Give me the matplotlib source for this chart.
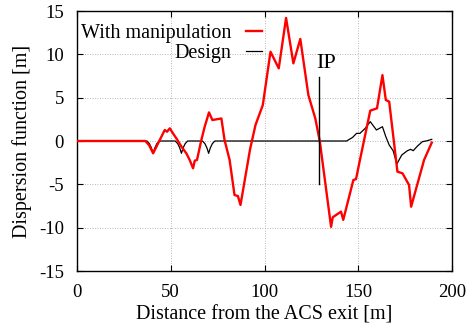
import matplotlib
matplotlib.use("Agg")
import matplotlib.pyplot as plt

red_x = [0, 36.5, 38.5, 40.6, 46.8, 48, 49.5, 51.2, 53, 55.7, 58.3, 60.1, 61.9, 62.8, 64,
         66.3, 68.1, 70.4, 72.2, 74.3, 77, 78.7, 81.4, 84, 85.8, 87.2, 92.3, 95.2, 99.1,
         103.2, 107.6, 111.5, 115.4, 119.1, 123.4, 127.1, 129.5, 135.5, 136.4, 140.8, 142,
         147.4, 148.8, 150.9, 156.4, 160, 162.9, 164.7, 166.5, 170.9, 173.6, 177.1, 178.2,
         185.1, 189.2]
red_y = [0, 0, -0.5, -1.42, 1.27, 1.07, 1.46, 0.88, 0.3, -0.65, -1.42, -2.19, -3.15, -2.27, -2.19,
         0.1, 1.65, 3.3, 2.42, 2.5, 2.6, 0.1, -2.19, -6.23, -6.35, -7.38, -0.95, 1.85, 4.15,
         10.3, 8.38, 14.2, 8.96, 11.77, 5.3, 2.6, -0.05, -9.9, -8.8, -8.15, -9.1,
         -4.5, -4.4, -2.19, 3.5, 3.77, 7.6, 4.73, 4.54, -3.54, -3.73, -5.08, -7.58,
         -2.19, -0.19]

black_x = [0, 37.3, 38.6, 39.7, 40.6, 41.5, 42.6, 43.9, 52.4, 53.7, 54.8, 55.7, 56.6, 57.7, 59.0,
           66.9, 68.2, 69.3, 70.2, 71.1, 72.2, 73.5, 143.8, 147, 149.1, 150.9, 153.7, 156.4,
           159.7, 162.9, 164.7, 166.5, 168.6, 170.6, 173.2, 176.2, 178, 179.3, 181.6, 184.2,
           186.9, 189.2]
black_y = [0, 0, -0.3, -0.8, -1.42, -0.8, -0.3, 0, 0, -0.3, -0.8, -1.42, -0.8, -0.3, 0,
           0, -0.3, -0.8, -1.42, -0.8, -0.3, 0, 0, 0.42, 0.88, 0.88, 1.46, 2.23,
           1.27, 1.65, 0.5, -0.46, -1.12, -2.65, -1.62, -1.12, -0.96, -1.12, -0.58, -0.08,
           0.04, 0.19]

ip_x = 129.3
ip_y = [-5, 7.4]

xticks = [0, 50, 100, 150, 200]
yticks = [-15, -10, -5, 0, 5, 10, 15]

plt.rcParams['font.family'] = ['Liberation Serif', 'DejaVu Serif']
plt.rcParams['axes.unicode_minus'] = False
fig = plt.figure(figsize=(4.73, 3.29), dpi=100)
ax = fig.add_axes([77/473, 58/329, 375/473, 260/329])

ax.plot(black_x, black_y, color='black', lw=0.9, label='Design', zorder=3)
ax.plot(red_x, red_y, color='#ff0000', lw=1.7, label='With manipulation', zorder=4)
ax.plot([ip_x, ip_x], ip_y, color='black', lw=1.0, zorder=5)
ax.text(ip_x - 1.5, 7.9, 'IP', fontsize=16, ha='left', va='bottom')

ax.set_xlim(0, 200)
ax.set_ylim(-15, 15)
ax.set_xticks(xticks)
ax.set_yticks(yticks)
ax.grid(True, color='#a0a0a0', linestyle=(0, (1, 2)), lw=0.6)
ax.tick_params(direction='in', top=True, right=True, labelsize=13.5, length=4, pad=9.5)
for s in ax.spines.values():
    s.set_linewidth(1.0)
ax.set_xlabel('Distance from the ACS exit [m]', fontsize=14.5, labelpad=3)
ax.set_ylabel('Dispersion function [m]', fontsize=14.5, labelpad=5)

h, l = ax.get_legend_handles_labels()
leg = ax.legend(h[::-1], l[::-1], loc='upper right', bbox_to_anchor=(0.493, 0.951),
                frameon=False, markerfirst=False, fontsize=14.5, handlelength=0.8,
                handletextpad=0.7, labelspacing=0.05, borderaxespad=0, borderpad=0)
leg._legend_box.align = 'right'

fig.savefig('out.png', dpi=100)
